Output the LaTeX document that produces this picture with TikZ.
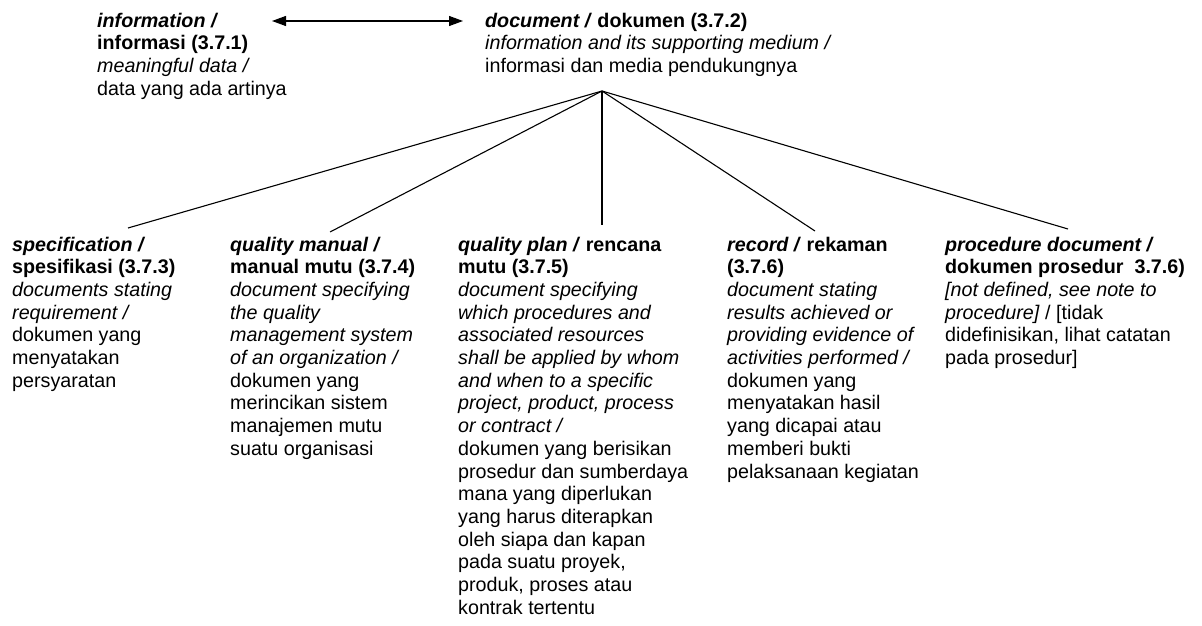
\documentclass[tikz,border=0pt]{standalone}
\usepackage{fontspec}
\setmainfont{Liberation Sans}
\usetikzlibrary{arrows.meta,calc,positioning}
\tikzset{headtip/.tip={Triangle[length=14pt,width=10pt]}}

\begin{document}
\begin{tikzpicture}[x=1pt,y=-1pt,
	term/.style={anchor=north west,inner sep=0pt,align=left,font=\fontsize{19.7}{22.7}\selectfont},
	link/.style={line width=1.1pt}]
	\useasboundingbox (0,0) rectangle (1202,626);
	\def\asc{14.4}
	\def\rowb{251}
	% top row
	\node[term] (info) at (97,27-\asc) {\textbf{\textit{information /}}\\
		\textbf{informasi (3.7.1)}\\
		\textit{meaningful data /}\\
		data yang ada artinya};
	\node[term] (doc) at (485,27-\asc) {\textbf{\textit{document /}} \textbf{dokumen (3.7.2)}\\
		\textit{information and its supporting medium /}\\
		informasi dan media pendukungnya};
	\coordinate (info-out) at (272,21);
	\coordinate (doc-in) at (463,21);
	\draw[link,headtip-headtip] (info-out) -- (doc-in);
	% bottom row
	\node[term] (spec) at (12,\rowb-\asc) {\textbf{\textit{specification /}}\\
		\textbf{spesifikasi (3.7.3)}\\
		\textit{documents stating}\\
		\textit{requirement /}\\
		dokumen yang\\
		menyatakan\\
		persyaratan};
	\node[term] (qman) at (230,\rowb-\asc) {\textbf{\textit{quality manual /}}\\
		\textbf{manual mutu (3.7.4)}\\
		\textit{document specifying}\\
		\textit{the quality}\\
		\textit{management system}\\
		\textit{of an organization /}\\
		dokumen yang\\
		merincikan sistem\\
		manajemen mutu\\
		suatu organisasi};
	\node[term] (qplan) at (458,\rowb-\asc) {\textbf{\textit{quality plan /}} \textbf{rencana}\\
		\textbf{mutu (3.7.5)}\\
		\textit{document specifying}\\
		\textit{which procedures and}\\
		\textit{associated resources}\\
		\textit{shall be applied by whom}\\
		\textit{and when to a specific}\\
		\textit{project, product, process}\\
		\textit{or contract /}\\
		dokumen yang berisikan\\
		prosedur dan sumberdaya\\
		mana yang diperlukan\\
		yang harus diterapkan\\
		oleh siapa dan kapan\\
		pada suatu proyek,\\
		produk, proses atau\\
		kontrak tertentu};
	\node[term] (rec) at (727,\rowb-\asc) {\textbf{\textit{record /}} \textbf{rekaman}\\
		\textbf{(3.7.6)}\\
		\textit{document stating}\\
		\textit{results achieved or}\\
		\textit{providing evidence of}\\
		\textit{activities performed /}\\
		dokumen yang\\
		menyatakan hasil\\
		yang dicapai atau\\
		memberi bukti\\
		pelaksanaan kegiatan};
	\node[term] (proc) at (945,\rowb-\asc) {\textbf{\textit{procedure document /}}\\
		\textbf{dokumen prosedur\ \ 3.7.6)}\\
		\textit{[not defined, see note to}\\
		\textit{procedure]} / [tidak\\
		didefinisikan, lihat catatan\\
		pada prosedur]};
	% fan
	\coordinate (apex) at (602,91);
	\coordinate (spec-in) at (128,228);
	\coordinate (qman-in) at (330,232);
	\coordinate (qplan-in) at (602,225);
	\coordinate (rec-in) at (815,231);
	\coordinate (proc-in) at (1068,229);
	\foreach \c in {spec,qman,qplan,rec,proc}
	\draw[link] (apex) -- (\c-in);
\end{tikzpicture}
\end{document}
